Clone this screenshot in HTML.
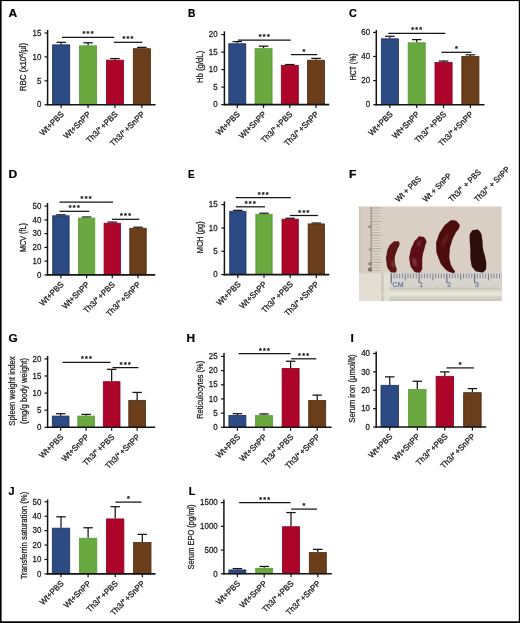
<!DOCTYPE html>
<html lang="en"><head><meta charset="utf-8"><title>Figure</title>
<style>html,body{margin:0;padding:0;background:#fff;}body{width:520px;height:623px;overflow:hidden;}svg{display:block;font-family:"Liberation Sans",sans-serif;}</style>
</head><body>
<svg width="520" height="623" viewBox="0 0 520 623">
<rect x="0" y="0" width="520" height="623" fill="#fff"/>
<line x1="61.15" y1="44.47" x2="61.15" y2="42.32" stroke="#141414" stroke-width="1.25" stroke-linecap="butt"/>
<line x1="56.40" y1="42.32" x2="65.90" y2="42.32" stroke="#141414" stroke-width="1.25" stroke-linecap="butt"/>
<rect x="52.60" y="44.87" width="17.10" height="59.83" fill="#2c4a84" stroke="#1c2f5a" stroke-width="0.8"/>
<line x1="88.05" y1="45.43" x2="88.05" y2="42.80" stroke="#141414" stroke-width="1.25" stroke-linecap="butt"/>
<line x1="83.30" y1="42.80" x2="92.80" y2="42.80" stroke="#141414" stroke-width="1.25" stroke-linecap="butt"/>
<rect x="79.50" y="45.83" width="17.10" height="58.87" fill="#6aa840" stroke="#5a9a34" stroke-width="0.8"/>
<line x1="114.95" y1="59.77" x2="114.95" y2="58.57" stroke="#141414" stroke-width="1.25" stroke-linecap="butt"/>
<line x1="110.20" y1="58.57" x2="119.70" y2="58.57" stroke="#141414" stroke-width="1.25" stroke-linecap="butt"/>
<rect x="106.40" y="60.17" width="17.10" height="44.53" fill="#ad0429" stroke="#8e0020" stroke-width="0.8"/>
<line x1="141.85" y1="48.30" x2="141.85" y2="47.34" stroke="#141414" stroke-width="1.25" stroke-linecap="butt"/>
<line x1="137.10" y1="47.34" x2="146.60" y2="47.34" stroke="#141414" stroke-width="1.25" stroke-linecap="butt"/>
<rect x="133.30" y="48.70" width="17.10" height="56.00" fill="#6a3d1b" stroke="#4a2a10" stroke-width="0.8"/>
<line x1="47.60" y1="30.00" x2="47.60" y2="105.50" stroke="#141414" stroke-width="1.5" stroke-linecap="butt"/>
<line x1="46.90" y1="104.70" x2="155.60" y2="104.70" stroke="#141414" stroke-width="1.6" stroke-linecap="butt"/>
<line x1="44.50" y1="104.70" x2="47.60" y2="104.70" stroke="#141414" stroke-width="1.2" stroke-linecap="butt"/>
<text transform="translate(41.40,107.40) scale(0.92,1)" font-size="8.6" text-anchor="end" font-weight="normal" fill="#242424" stroke="#242424" stroke-width="0.28">0</text>
<line x1="44.50" y1="80.80" x2="47.60" y2="80.80" stroke="#141414" stroke-width="1.2" stroke-linecap="butt"/>
<text transform="translate(41.40,83.50) scale(0.92,1)" font-size="8.6" text-anchor="end" font-weight="normal" fill="#242424" stroke="#242424" stroke-width="0.28">5</text>
<line x1="44.50" y1="56.90" x2="47.60" y2="56.90" stroke="#141414" stroke-width="1.2" stroke-linecap="butt"/>
<text transform="translate(41.40,59.60) scale(0.92,1)" font-size="8.6" text-anchor="end" font-weight="normal" fill="#242424" stroke="#242424" stroke-width="0.28">10</text>
<line x1="44.50" y1="33.00" x2="47.60" y2="33.00" stroke="#141414" stroke-width="1.2" stroke-linecap="butt"/>
<text transform="translate(41.40,35.70) scale(0.92,1)" font-size="8.6" text-anchor="end" font-weight="normal" fill="#242424" stroke="#242424" stroke-width="0.28">15</text>
<line x1="61.15" y1="104.70" x2="61.15" y2="108.10" stroke="#141414" stroke-width="1.2" stroke-linecap="butt"/>
<text transform="translate(64.45,114.80) rotate(-45) scale(0.97,1)" font-size="8.2" text-anchor="end" font-weight="normal" fill="#242424" stroke="#242424" stroke-width="0.3">Wt+PBS</text>
<line x1="88.05" y1="104.70" x2="88.05" y2="108.10" stroke="#141414" stroke-width="1.2" stroke-linecap="butt"/>
<text transform="translate(91.35,114.80) rotate(-45) scale(0.97,1)" font-size="8.2" text-anchor="end" font-weight="normal" fill="#242424" stroke="#242424" stroke-width="0.3">Wt+SnPP</text>
<line x1="114.95" y1="104.70" x2="114.95" y2="108.10" stroke="#141414" stroke-width="1.2" stroke-linecap="butt"/>
<text transform="translate(118.25,114.80) rotate(-45) scale(0.97,1)" font-size="8.2" text-anchor="end" font-weight="normal" fill="#242424" stroke="#242424" stroke-width="0.3">Th3/<tspan dy="-2.6" font-size="5.5">+</tspan><tspan dy="2.6" dx="1.2">+PBS</tspan></text>
<line x1="141.85" y1="104.70" x2="141.85" y2="108.10" stroke="#141414" stroke-width="1.2" stroke-linecap="butt"/>
<text transform="translate(145.15,114.80) rotate(-45) scale(0.97,1)" font-size="8.2" text-anchor="end" font-weight="normal" fill="#242424" stroke="#242424" stroke-width="0.3">Th3/<tspan dy="-2.6" font-size="5.5">+</tspan><tspan dy="2.6" dx="1.2">+SnPP</tspan></text>
<text transform="translate(26.00,67.00) rotate(-90) scale(0.9067500000000001,1)" font-size="8.8" text-anchor="middle" font-weight="normal" fill="#262626" stroke="#262626" stroke-width="0.28">RBC (x10<tspan dy="-2.6" font-size="5.5">6</tspan><tspan dy="2.6">/μl)</tspan></text>
<line x1="62.00" y1="37.30" x2="114.30" y2="37.30" stroke="#141414" stroke-width="1.25" stroke-linecap="butt"/>
<text transform="translate(88.65,36.30)" font-size="7.2" text-anchor="middle" font-weight="bold" fill="#1c1c1c" stroke="#1c1c1c" stroke-width="0.25" letter-spacing="1.3">***</text>
<line x1="113.80" y1="42.30" x2="142.30" y2="42.30" stroke="#141414" stroke-width="1.25" stroke-linecap="butt"/>
<text transform="translate(128.55,41.30)" font-size="7.2" text-anchor="middle" font-weight="bold" fill="#1c1c1c" stroke="#1c1c1c" stroke-width="0.25" letter-spacing="1.3">***</text>
<text transform="translate(8.50,16.70) scale(1.12,1)" font-size="10.8" text-anchor="start" font-weight="bold" fill="#000" stroke="#000" stroke-width="0.2">A</text>
<line x1="237.30" y1="43.35" x2="237.30" y2="41.60" stroke="#141414" stroke-width="1.25" stroke-linecap="butt"/>
<line x1="232.55" y1="41.60" x2="242.05" y2="41.60" stroke="#141414" stroke-width="1.25" stroke-linecap="butt"/>
<rect x="228.80" y="43.75" width="17.00" height="60.85" fill="#2c4a84" stroke="#1c2f5a" stroke-width="0.8"/>
<line x1="263.55" y1="48.25" x2="263.55" y2="46.15" stroke="#141414" stroke-width="1.25" stroke-linecap="butt"/>
<line x1="258.80" y1="46.15" x2="268.30" y2="46.15" stroke="#141414" stroke-width="1.25" stroke-linecap="butt"/>
<rect x="255.05" y="48.65" width="17.00" height="55.95" fill="#6aa840" stroke="#5a9a34" stroke-width="0.8"/>
<line x1="289.80" y1="65.05" x2="289.80" y2="64.52" stroke="#141414" stroke-width="1.25" stroke-linecap="butt"/>
<line x1="285.05" y1="64.52" x2="294.55" y2="64.52" stroke="#141414" stroke-width="1.25" stroke-linecap="butt"/>
<rect x="281.30" y="65.45" width="17.00" height="39.15" fill="#ad0429" stroke="#8e0020" stroke-width="0.8"/>
<line x1="316.05" y1="59.80" x2="316.05" y2="58.40" stroke="#141414" stroke-width="1.25" stroke-linecap="butt"/>
<line x1="311.30" y1="58.40" x2="320.80" y2="58.40" stroke="#141414" stroke-width="1.25" stroke-linecap="butt"/>
<rect x="307.55" y="60.20" width="17.00" height="44.40" fill="#6a3d1b" stroke="#4a2a10" stroke-width="0.8"/>
<line x1="224.40" y1="31.30" x2="224.40" y2="105.40" stroke="#141414" stroke-width="1.5" stroke-linecap="butt"/>
<line x1="223.70" y1="104.60" x2="329.30" y2="104.60" stroke="#141414" stroke-width="1.6" stroke-linecap="butt"/>
<line x1="221.30" y1="104.60" x2="224.40" y2="104.60" stroke="#141414" stroke-width="1.2" stroke-linecap="butt"/>
<text transform="translate(217.60,107.30) scale(0.92,1)" font-size="8.6" text-anchor="end" font-weight="normal" fill="#242424" stroke="#242424" stroke-width="0.28">0</text>
<line x1="221.30" y1="87.10" x2="224.40" y2="87.10" stroke="#141414" stroke-width="1.2" stroke-linecap="butt"/>
<text transform="translate(217.60,89.80) scale(0.92,1)" font-size="8.6" text-anchor="end" font-weight="normal" fill="#242424" stroke="#242424" stroke-width="0.28">5</text>
<line x1="221.30" y1="69.60" x2="224.40" y2="69.60" stroke="#141414" stroke-width="1.2" stroke-linecap="butt"/>
<text transform="translate(217.60,72.30) scale(0.92,1)" font-size="8.6" text-anchor="end" font-weight="normal" fill="#242424" stroke="#242424" stroke-width="0.28">10</text>
<line x1="221.30" y1="52.10" x2="224.40" y2="52.10" stroke="#141414" stroke-width="1.2" stroke-linecap="butt"/>
<text transform="translate(217.60,54.80) scale(0.92,1)" font-size="8.6" text-anchor="end" font-weight="normal" fill="#242424" stroke="#242424" stroke-width="0.28">15</text>
<line x1="221.30" y1="34.60" x2="224.40" y2="34.60" stroke="#141414" stroke-width="1.2" stroke-linecap="butt"/>
<text transform="translate(217.60,37.30) scale(0.92,1)" font-size="8.6" text-anchor="end" font-weight="normal" fill="#242424" stroke="#242424" stroke-width="0.28">20</text>
<line x1="237.30" y1="104.60" x2="237.30" y2="108.00" stroke="#141414" stroke-width="1.2" stroke-linecap="butt"/>
<text transform="translate(240.60,114.70) rotate(-45) scale(0.97,1)" font-size="8.2" text-anchor="end" font-weight="normal" fill="#242424" stroke="#242424" stroke-width="0.3">Wt+PBS</text>
<line x1="263.55" y1="104.60" x2="263.55" y2="108.00" stroke="#141414" stroke-width="1.2" stroke-linecap="butt"/>
<text transform="translate(266.85,114.70) rotate(-45) scale(0.97,1)" font-size="8.2" text-anchor="end" font-weight="normal" fill="#242424" stroke="#242424" stroke-width="0.3">Wt+SnPP</text>
<line x1="289.80" y1="104.60" x2="289.80" y2="108.00" stroke="#141414" stroke-width="1.2" stroke-linecap="butt"/>
<text transform="translate(293.10,114.70) rotate(-45) scale(0.97,1)" font-size="8.2" text-anchor="end" font-weight="normal" fill="#242424" stroke="#242424" stroke-width="0.3">Th3/<tspan dy="-2.6" font-size="5.5">+</tspan><tspan dy="2.6" dx="1.2">+PBS</tspan></text>
<line x1="316.05" y1="104.60" x2="316.05" y2="108.00" stroke="#141414" stroke-width="1.2" stroke-linecap="butt"/>
<text transform="translate(319.35,114.70) rotate(-45) scale(0.97,1)" font-size="8.2" text-anchor="end" font-weight="normal" fill="#242424" stroke="#242424" stroke-width="0.3">Th3/<tspan dy="-2.6" font-size="5.5">+</tspan><tspan dy="2.6" dx="1.2">+SnPP</tspan></text>
<text transform="translate(203.00,66.90) rotate(-90) scale(0.9262499999999999,1)" font-size="8.4" text-anchor="middle" font-weight="normal" fill="#262626" stroke="#262626" stroke-width="0.28">Hb (g/dL)</text>
<line x1="238.00" y1="40.20" x2="290.80" y2="40.20" stroke="#141414" stroke-width="1.25" stroke-linecap="butt"/>
<text transform="translate(264.90,39.20)" font-size="7.2" text-anchor="middle" font-weight="bold" fill="#1c1c1c" stroke="#1c1c1c" stroke-width="0.25" letter-spacing="1.3">***</text>
<line x1="291.00" y1="54.60" x2="317.20" y2="54.60" stroke="#141414" stroke-width="1.25" stroke-linecap="butt"/>
<text transform="translate(304.60,53.60)" font-size="7.2" text-anchor="middle" font-weight="bold" fill="#1c1c1c" stroke="#1c1c1c" stroke-width="0.25" letter-spacing="1.3">*</text>
<text transform="translate(188.00,16.70) scale(0.95,1)" font-size="10.8" text-anchor="start" font-weight="bold" fill="#000" stroke="#000" stroke-width="0.2">B</text>
<line x1="389.85" y1="38.42" x2="389.85" y2="36.26" stroke="#141414" stroke-width="1.25" stroke-linecap="butt"/>
<line x1="385.10" y1="36.26" x2="394.60" y2="36.26" stroke="#141414" stroke-width="1.25" stroke-linecap="butt"/>
<rect x="381.30" y="38.82" width="17.10" height="65.88" fill="#2c4a84" stroke="#1c2f5a" stroke-width="0.8"/>
<line x1="416.70" y1="42.40" x2="416.70" y2="39.63" stroke="#141414" stroke-width="1.25" stroke-linecap="butt"/>
<line x1="411.95" y1="39.63" x2="421.45" y2="39.63" stroke="#141414" stroke-width="1.25" stroke-linecap="butt"/>
<rect x="408.15" y="42.80" width="17.10" height="61.90" fill="#6aa840" stroke="#5a9a34" stroke-width="0.8"/>
<line x1="443.55" y1="62.04" x2="443.55" y2="61.08" stroke="#141414" stroke-width="1.25" stroke-linecap="butt"/>
<line x1="438.80" y1="61.08" x2="448.30" y2="61.08" stroke="#141414" stroke-width="1.25" stroke-linecap="butt"/>
<rect x="435.00" y="62.44" width="17.10" height="42.26" fill="#ad0429" stroke="#8e0020" stroke-width="0.8"/>
<line x1="470.40" y1="56.02" x2="470.40" y2="54.81" stroke="#141414" stroke-width="1.25" stroke-linecap="butt"/>
<line x1="465.65" y1="54.81" x2="475.15" y2="54.81" stroke="#141414" stroke-width="1.25" stroke-linecap="butt"/>
<rect x="461.85" y="56.42" width="17.10" height="48.28" fill="#6a3d1b" stroke="#4a2a10" stroke-width="0.8"/>
<line x1="376.30" y1="30.00" x2="376.30" y2="105.50" stroke="#141414" stroke-width="1.5" stroke-linecap="butt"/>
<line x1="375.60" y1="104.70" x2="484.50" y2="104.70" stroke="#141414" stroke-width="1.6" stroke-linecap="butt"/>
<line x1="373.20" y1="104.70" x2="376.30" y2="104.70" stroke="#141414" stroke-width="1.2" stroke-linecap="butt"/>
<text transform="translate(370.10,107.40) scale(0.92,1)" font-size="8.6" text-anchor="end" font-weight="normal" fill="#242424" stroke="#242424" stroke-width="0.28">0</text>
<line x1="373.20" y1="80.60" x2="376.30" y2="80.60" stroke="#141414" stroke-width="1.2" stroke-linecap="butt"/>
<text transform="translate(370.10,83.30) scale(0.92,1)" font-size="8.6" text-anchor="end" font-weight="normal" fill="#242424" stroke="#242424" stroke-width="0.28">20</text>
<line x1="373.20" y1="56.50" x2="376.30" y2="56.50" stroke="#141414" stroke-width="1.2" stroke-linecap="butt"/>
<text transform="translate(370.10,59.20) scale(0.92,1)" font-size="8.6" text-anchor="end" font-weight="normal" fill="#242424" stroke="#242424" stroke-width="0.28">40</text>
<line x1="373.20" y1="32.40" x2="376.30" y2="32.40" stroke="#141414" stroke-width="1.2" stroke-linecap="butt"/>
<text transform="translate(370.10,35.10) scale(0.92,1)" font-size="8.6" text-anchor="end" font-weight="normal" fill="#242424" stroke="#242424" stroke-width="0.28">60</text>
<line x1="389.85" y1="104.70" x2="389.85" y2="108.10" stroke="#141414" stroke-width="1.2" stroke-linecap="butt"/>
<text transform="translate(393.15,114.80) rotate(-45) scale(0.97,1)" font-size="8.2" text-anchor="end" font-weight="normal" fill="#242424" stroke="#242424" stroke-width="0.3">Wt+PBS</text>
<line x1="416.70" y1="104.70" x2="416.70" y2="108.10" stroke="#141414" stroke-width="1.2" stroke-linecap="butt"/>
<text transform="translate(420.00,114.80) rotate(-45) scale(0.97,1)" font-size="8.2" text-anchor="end" font-weight="normal" fill="#242424" stroke="#242424" stroke-width="0.3">Wt+SnPP</text>
<line x1="443.55" y1="104.70" x2="443.55" y2="108.10" stroke="#141414" stroke-width="1.2" stroke-linecap="butt"/>
<text transform="translate(446.85,114.80) rotate(-45) scale(0.97,1)" font-size="8.2" text-anchor="end" font-weight="normal" fill="#242424" stroke="#242424" stroke-width="0.3">Th3/<tspan dy="-2.6" font-size="5.5">+</tspan><tspan dy="2.6" dx="1.2">+PBS</tspan></text>
<line x1="470.40" y1="104.70" x2="470.40" y2="108.10" stroke="#141414" stroke-width="1.2" stroke-linecap="butt"/>
<text transform="translate(473.70,114.80) rotate(-45) scale(0.97,1)" font-size="8.2" text-anchor="end" font-weight="normal" fill="#242424" stroke="#242424" stroke-width="0.3">Th3/<tspan dy="-2.6" font-size="5.5">+</tspan><tspan dy="2.6" dx="1.2">+SnPP</tspan></text>
<text transform="translate(355.50,66.80) rotate(-90) scale(0.82875,1)" font-size="8.4" text-anchor="middle" font-weight="normal" fill="#262626" stroke="#262626" stroke-width="0.28">HCT (%)</text>
<line x1="388.30" y1="33.30" x2="445.30" y2="33.30" stroke="#141414" stroke-width="1.25" stroke-linecap="butt"/>
<text transform="translate(417.30,32.30)" font-size="7.2" text-anchor="middle" font-weight="bold" fill="#1c1c1c" stroke="#1c1c1c" stroke-width="0.25" letter-spacing="1.3">***</text>
<line x1="441.50" y1="52.30" x2="471.50" y2="52.30" stroke="#141414" stroke-width="1.25" stroke-linecap="butt"/>
<text transform="translate(457.00,51.30)" font-size="7.2" text-anchor="middle" font-weight="bold" fill="#1c1c1c" stroke="#1c1c1c" stroke-width="0.25" letter-spacing="1.3">*</text>
<text transform="translate(349.00,16.70)" font-size="10.8" text-anchor="start" font-weight="bold" fill="#000" stroke="#000" stroke-width="0.2">C</text>
<line x1="60.90" y1="215.36" x2="60.90" y2="214.81" stroke="#141414" stroke-width="1.25" stroke-linecap="butt"/>
<line x1="56.15" y1="214.81" x2="65.65" y2="214.81" stroke="#141414" stroke-width="1.25" stroke-linecap="butt"/>
<rect x="52.70" y="215.76" width="16.40" height="59.14" fill="#2c4a84" stroke="#1c2f5a" stroke-width="0.8"/>
<line x1="86.60" y1="217.70" x2="86.60" y2="217.01" stroke="#141414" stroke-width="1.25" stroke-linecap="butt"/>
<line x1="81.85" y1="217.01" x2="91.35" y2="217.01" stroke="#141414" stroke-width="1.25" stroke-linecap="butt"/>
<rect x="78.40" y="218.10" width="16.40" height="56.80" fill="#6aa840" stroke="#5a9a34" stroke-width="0.8"/>
<line x1="112.30" y1="222.79" x2="112.30" y2="222.10" stroke="#141414" stroke-width="1.25" stroke-linecap="butt"/>
<line x1="107.55" y1="222.10" x2="117.05" y2="222.10" stroke="#141414" stroke-width="1.25" stroke-linecap="butt"/>
<rect x="104.10" y="223.19" width="16.40" height="51.71" fill="#ad0429" stroke="#8e0020" stroke-width="0.8"/>
<line x1="138.00" y1="227.87" x2="138.00" y2="227.19" stroke="#141414" stroke-width="1.25" stroke-linecap="butt"/>
<line x1="133.25" y1="227.19" x2="142.75" y2="227.19" stroke="#141414" stroke-width="1.25" stroke-linecap="butt"/>
<rect x="129.80" y="228.27" width="16.40" height="46.63" fill="#6a3d1b" stroke="#4a2a10" stroke-width="0.8"/>
<line x1="47.50" y1="203.00" x2="47.50" y2="275.70" stroke="#141414" stroke-width="1.5" stroke-linecap="butt"/>
<line x1="46.80" y1="274.90" x2="155.20" y2="274.90" stroke="#141414" stroke-width="1.6" stroke-linecap="butt"/>
<line x1="44.40" y1="274.90" x2="47.50" y2="274.90" stroke="#141414" stroke-width="1.2" stroke-linecap="butt"/>
<text transform="translate(41.30,277.60) scale(0.92,1)" font-size="8.6" text-anchor="end" font-weight="normal" fill="#242424" stroke="#242424" stroke-width="0.28">0</text>
<line x1="44.40" y1="261.15" x2="47.50" y2="261.15" stroke="#141414" stroke-width="1.2" stroke-linecap="butt"/>
<text transform="translate(41.30,263.85) scale(0.92,1)" font-size="8.6" text-anchor="end" font-weight="normal" fill="#242424" stroke="#242424" stroke-width="0.28">10</text>
<line x1="44.40" y1="247.40" x2="47.50" y2="247.40" stroke="#141414" stroke-width="1.2" stroke-linecap="butt"/>
<text transform="translate(41.30,250.10) scale(0.92,1)" font-size="8.6" text-anchor="end" font-weight="normal" fill="#242424" stroke="#242424" stroke-width="0.28">20</text>
<line x1="44.40" y1="233.65" x2="47.50" y2="233.65" stroke="#141414" stroke-width="1.2" stroke-linecap="butt"/>
<text transform="translate(41.30,236.35) scale(0.92,1)" font-size="8.6" text-anchor="end" font-weight="normal" fill="#242424" stroke="#242424" stroke-width="0.28">30</text>
<line x1="44.40" y1="219.90" x2="47.50" y2="219.90" stroke="#141414" stroke-width="1.2" stroke-linecap="butt"/>
<text transform="translate(41.30,222.60) scale(0.92,1)" font-size="8.6" text-anchor="end" font-weight="normal" fill="#242424" stroke="#242424" stroke-width="0.28">40</text>
<line x1="44.40" y1="206.15" x2="47.50" y2="206.15" stroke="#141414" stroke-width="1.2" stroke-linecap="butt"/>
<text transform="translate(41.30,208.85) scale(0.92,1)" font-size="8.6" text-anchor="end" font-weight="normal" fill="#242424" stroke="#242424" stroke-width="0.28">50</text>
<line x1="60.90" y1="274.90" x2="60.90" y2="278.30" stroke="#141414" stroke-width="1.2" stroke-linecap="butt"/>
<text transform="translate(64.20,285.00) rotate(-45) scale(0.97,1)" font-size="8.2" text-anchor="end" font-weight="normal" fill="#242424" stroke="#242424" stroke-width="0.3">Wt+PBS</text>
<line x1="86.60" y1="274.90" x2="86.60" y2="278.30" stroke="#141414" stroke-width="1.2" stroke-linecap="butt"/>
<text transform="translate(89.90,285.00) rotate(-45) scale(0.97,1)" font-size="8.2" text-anchor="end" font-weight="normal" fill="#242424" stroke="#242424" stroke-width="0.3">Wt+SnPP</text>
<line x1="112.30" y1="274.90" x2="112.30" y2="278.30" stroke="#141414" stroke-width="1.2" stroke-linecap="butt"/>
<text transform="translate(115.60,285.00) rotate(-45) scale(0.97,1)" font-size="8.2" text-anchor="end" font-weight="normal" fill="#242424" stroke="#242424" stroke-width="0.3">Th3/<tspan dy="-2.6" font-size="5.5">+</tspan><tspan dy="2.6" dx="1.2">+PBS</tspan></text>
<line x1="138.00" y1="274.90" x2="138.00" y2="278.30" stroke="#141414" stroke-width="1.2" stroke-linecap="butt"/>
<text transform="translate(141.30,285.00) rotate(-45) scale(0.97,1)" font-size="8.2" text-anchor="end" font-weight="normal" fill="#242424" stroke="#242424" stroke-width="0.3">Th3/<tspan dy="-2.6" font-size="5.5">+</tspan><tspan dy="2.6" dx="1.2">+SnPP</tspan></text>
<text transform="translate(25.60,237.50) rotate(-90) scale(0.862875,1)" font-size="8.4" text-anchor="middle" font-weight="normal" fill="#262626" stroke="#262626" stroke-width="0.28">MCV (fL)</text>
<line x1="59.50" y1="202.00" x2="113.00" y2="202.00" stroke="#141414" stroke-width="1.25" stroke-linecap="butt"/>
<text transform="translate(86.75,201.00)" font-size="7.2" text-anchor="middle" font-weight="bold" fill="#1c1c1c" stroke="#1c1c1c" stroke-width="0.25" letter-spacing="1.3">***</text>
<line x1="59.50" y1="211.30" x2="89.30" y2="211.30" stroke="#141414" stroke-width="1.25" stroke-linecap="butt"/>
<text transform="translate(74.90,210.30)" font-size="7.2" text-anchor="middle" font-weight="bold" fill="#1c1c1c" stroke="#1c1c1c" stroke-width="0.25" letter-spacing="1.3">***</text>
<line x1="112.00" y1="219.30" x2="139.30" y2="219.30" stroke="#141414" stroke-width="1.25" stroke-linecap="butt"/>
<text transform="translate(126.15,218.30)" font-size="7.2" text-anchor="middle" font-weight="bold" fill="#1c1c1c" stroke="#1c1c1c" stroke-width="0.25" letter-spacing="1.3">***</text>
<text transform="translate(8.40,178.40) scale(1.12,1)" font-size="10.8" text-anchor="start" font-weight="bold" fill="#000" stroke="#000" stroke-width="0.2">D</text>
<line x1="237.85" y1="210.90" x2="237.85" y2="210.34" stroke="#141414" stroke-width="1.25" stroke-linecap="butt"/>
<line x1="233.10" y1="210.34" x2="242.60" y2="210.34" stroke="#141414" stroke-width="1.25" stroke-linecap="butt"/>
<rect x="229.70" y="211.30" width="16.30" height="63.30" fill="#2c4a84" stroke="#1c2f5a" stroke-width="0.8"/>
<line x1="264.00" y1="213.93" x2="264.00" y2="213.23" stroke="#141414" stroke-width="1.25" stroke-linecap="butt"/>
<line x1="259.25" y1="213.23" x2="268.75" y2="213.23" stroke="#141414" stroke-width="1.25" stroke-linecap="butt"/>
<rect x="255.85" y="214.33" width="16.30" height="60.27" fill="#6aa840" stroke="#5a9a34" stroke-width="0.8"/>
<line x1="290.15" y1="218.83" x2="290.15" y2="218.27" stroke="#141414" stroke-width="1.25" stroke-linecap="butt"/>
<line x1="285.40" y1="218.27" x2="294.90" y2="218.27" stroke="#141414" stroke-width="1.25" stroke-linecap="butt"/>
<rect x="282.00" y="219.23" width="16.30" height="55.37" fill="#ad0429" stroke="#8e0020" stroke-width="0.8"/>
<line x1="316.30" y1="223.50" x2="316.30" y2="223.03" stroke="#141414" stroke-width="1.25" stroke-linecap="butt"/>
<line x1="311.55" y1="223.03" x2="321.05" y2="223.03" stroke="#141414" stroke-width="1.25" stroke-linecap="butt"/>
<rect x="308.15" y="223.90" width="16.30" height="50.70" fill="#6a3d1b" stroke="#4a2a10" stroke-width="0.8"/>
<line x1="224.40" y1="201.40" x2="224.40" y2="275.40" stroke="#141414" stroke-width="1.5" stroke-linecap="butt"/>
<line x1="223.70" y1="274.60" x2="329.30" y2="274.60" stroke="#141414" stroke-width="1.6" stroke-linecap="butt"/>
<line x1="221.30" y1="274.60" x2="224.40" y2="274.60" stroke="#141414" stroke-width="1.2" stroke-linecap="butt"/>
<text transform="translate(217.60,277.30) scale(0.92,1)" font-size="8.6" text-anchor="end" font-weight="normal" fill="#242424" stroke="#242424" stroke-width="0.28">0</text>
<line x1="221.30" y1="251.27" x2="224.40" y2="251.27" stroke="#141414" stroke-width="1.2" stroke-linecap="butt"/>
<text transform="translate(217.60,253.97) scale(0.92,1)" font-size="8.6" text-anchor="end" font-weight="normal" fill="#242424" stroke="#242424" stroke-width="0.28">5</text>
<line x1="221.30" y1="227.93" x2="224.40" y2="227.93" stroke="#141414" stroke-width="1.2" stroke-linecap="butt"/>
<text transform="translate(217.60,230.63) scale(0.92,1)" font-size="8.6" text-anchor="end" font-weight="normal" fill="#242424" stroke="#242424" stroke-width="0.28">10</text>
<line x1="221.30" y1="204.60" x2="224.40" y2="204.60" stroke="#141414" stroke-width="1.2" stroke-linecap="butt"/>
<text transform="translate(217.60,207.30) scale(0.92,1)" font-size="8.6" text-anchor="end" font-weight="normal" fill="#242424" stroke="#242424" stroke-width="0.28">15</text>
<line x1="237.85" y1="274.60" x2="237.85" y2="278.00" stroke="#141414" stroke-width="1.2" stroke-linecap="butt"/>
<text transform="translate(241.15,284.70) rotate(-45) scale(0.97,1)" font-size="8.2" text-anchor="end" font-weight="normal" fill="#242424" stroke="#242424" stroke-width="0.3">Wt+PBS</text>
<line x1="264.00" y1="274.60" x2="264.00" y2="278.00" stroke="#141414" stroke-width="1.2" stroke-linecap="butt"/>
<text transform="translate(267.30,284.70) rotate(-45) scale(0.97,1)" font-size="8.2" text-anchor="end" font-weight="normal" fill="#242424" stroke="#242424" stroke-width="0.3">Wt+SnPP</text>
<line x1="290.15" y1="274.60" x2="290.15" y2="278.00" stroke="#141414" stroke-width="1.2" stroke-linecap="butt"/>
<text transform="translate(293.45,284.70) rotate(-45) scale(0.97,1)" font-size="8.2" text-anchor="end" font-weight="normal" fill="#242424" stroke="#242424" stroke-width="0.3">Th3/<tspan dy="-2.6" font-size="5.5">+</tspan><tspan dy="2.6" dx="1.2">+PBS</tspan></text>
<line x1="316.30" y1="274.60" x2="316.30" y2="278.00" stroke="#141414" stroke-width="1.2" stroke-linecap="butt"/>
<text transform="translate(319.60,284.70) rotate(-45) scale(0.97,1)" font-size="8.2" text-anchor="end" font-weight="normal" fill="#242424" stroke="#242424" stroke-width="0.3">Th3/<tspan dy="-2.6" font-size="5.5">+</tspan><tspan dy="2.6" dx="1.2">+SnPP</tspan></text>
<text transform="translate(203.00,237.30) rotate(-90) scale(0.8775,1)" font-size="8.4" text-anchor="middle" font-weight="normal" fill="#262626" stroke="#262626" stroke-width="0.28">MCH (pg)</text>
<line x1="235.80" y1="197.50" x2="290.80" y2="197.50" stroke="#141414" stroke-width="1.25" stroke-linecap="butt"/>
<text transform="translate(263.80,196.50)" font-size="7.2" text-anchor="middle" font-weight="bold" fill="#1c1c1c" stroke="#1c1c1c" stroke-width="0.25" letter-spacing="1.3">***</text>
<line x1="235.80" y1="206.80" x2="265.00" y2="206.80" stroke="#141414" stroke-width="1.25" stroke-linecap="butt"/>
<text transform="translate(250.90,205.80)" font-size="7.2" text-anchor="middle" font-weight="bold" fill="#1c1c1c" stroke="#1c1c1c" stroke-width="0.25" letter-spacing="1.3">***</text>
<line x1="290.00" y1="215.50" x2="318.00" y2="215.50" stroke="#141414" stroke-width="1.25" stroke-linecap="butt"/>
<text transform="translate(304.50,214.50)" font-size="7.2" text-anchor="middle" font-weight="bold" fill="#1c1c1c" stroke="#1c1c1c" stroke-width="0.25" letter-spacing="1.3">***</text>
<text transform="translate(188.00,178.40) scale(0.92,1)" font-size="10.8" text-anchor="start" font-weight="bold" fill="#000" stroke="#000" stroke-width="0.2">E</text>
<line x1="60.65" y1="415.67" x2="60.65" y2="413.69" stroke="#141414" stroke-width="1.25" stroke-linecap="butt"/>
<line x1="55.90" y1="413.69" x2="65.40" y2="413.69" stroke="#141414" stroke-width="1.25" stroke-linecap="butt"/>
<rect x="52.30" y="416.07" width="16.70" height="11.23" fill="#2c4a84" stroke="#1c2f5a" stroke-width="0.8"/>
<line x1="86.15" y1="415.67" x2="86.15" y2="414.41" stroke="#141414" stroke-width="1.25" stroke-linecap="butt"/>
<line x1="81.40" y1="414.41" x2="90.90" y2="414.41" stroke="#141414" stroke-width="1.25" stroke-linecap="butt"/>
<rect x="77.80" y="416.07" width="16.70" height="11.23" fill="#6aa840" stroke="#5a9a34" stroke-width="0.8"/>
<line x1="111.65" y1="381.30" x2="111.65" y2="369.33" stroke="#141414" stroke-width="1.25" stroke-linecap="butt"/>
<line x1="106.90" y1="369.33" x2="116.40" y2="369.33" stroke="#141414" stroke-width="1.25" stroke-linecap="butt"/>
<rect x="103.30" y="381.70" width="16.70" height="45.60" fill="#ad0429" stroke="#8e0020" stroke-width="0.8"/>
<line x1="137.15" y1="399.94" x2="137.15" y2="392.42" stroke="#141414" stroke-width="1.25" stroke-linecap="butt"/>
<line x1="132.40" y1="392.42" x2="141.90" y2="392.42" stroke="#141414" stroke-width="1.25" stroke-linecap="butt"/>
<rect x="128.80" y="400.34" width="16.70" height="26.96" fill="#6a3d1b" stroke="#4a2a10" stroke-width="0.8"/>
<line x1="47.60" y1="356.00" x2="47.60" y2="428.10" stroke="#141414" stroke-width="1.5" stroke-linecap="butt"/>
<line x1="46.90" y1="427.30" x2="155.20" y2="427.30" stroke="#141414" stroke-width="1.6" stroke-linecap="butt"/>
<line x1="44.50" y1="427.30" x2="47.60" y2="427.30" stroke="#141414" stroke-width="1.2" stroke-linecap="butt"/>
<text transform="translate(41.40,430.00) scale(0.92,1)" font-size="8.6" text-anchor="end" font-weight="normal" fill="#242424" stroke="#242424" stroke-width="0.28">0</text>
<line x1="44.50" y1="410.20" x2="47.60" y2="410.20" stroke="#141414" stroke-width="1.2" stroke-linecap="butt"/>
<text transform="translate(41.40,412.90) scale(0.92,1)" font-size="8.6" text-anchor="end" font-weight="normal" fill="#242424" stroke="#242424" stroke-width="0.28">5</text>
<line x1="44.50" y1="393.10" x2="47.60" y2="393.10" stroke="#141414" stroke-width="1.2" stroke-linecap="butt"/>
<text transform="translate(41.40,395.80) scale(0.92,1)" font-size="8.6" text-anchor="end" font-weight="normal" fill="#242424" stroke="#242424" stroke-width="0.28">10</text>
<line x1="44.50" y1="376.00" x2="47.60" y2="376.00" stroke="#141414" stroke-width="1.2" stroke-linecap="butt"/>
<text transform="translate(41.40,378.70) scale(0.92,1)" font-size="8.6" text-anchor="end" font-weight="normal" fill="#242424" stroke="#242424" stroke-width="0.28">15</text>
<line x1="44.50" y1="358.90" x2="47.60" y2="358.90" stroke="#141414" stroke-width="1.2" stroke-linecap="butt"/>
<text transform="translate(41.40,361.60) scale(0.92,1)" font-size="8.6" text-anchor="end" font-weight="normal" fill="#242424" stroke="#242424" stroke-width="0.28">20</text>
<line x1="60.65" y1="427.30" x2="60.65" y2="430.70" stroke="#141414" stroke-width="1.2" stroke-linecap="butt"/>
<text transform="translate(63.95,437.40) rotate(-45) scale(0.97,1)" font-size="8.2" text-anchor="end" font-weight="normal" fill="#242424" stroke="#242424" stroke-width="0.3">Wt+PBS</text>
<line x1="86.15" y1="427.30" x2="86.15" y2="430.70" stroke="#141414" stroke-width="1.2" stroke-linecap="butt"/>
<text transform="translate(89.45,437.40) rotate(-45) scale(0.97,1)" font-size="8.2" text-anchor="end" font-weight="normal" fill="#242424" stroke="#242424" stroke-width="0.3">Wt+SnPP</text>
<line x1="111.65" y1="427.30" x2="111.65" y2="430.70" stroke="#141414" stroke-width="1.2" stroke-linecap="butt"/>
<text transform="translate(114.95,437.40) rotate(-45) scale(0.97,1)" font-size="8.2" text-anchor="end" font-weight="normal" fill="#242424" stroke="#242424" stroke-width="0.3">Th3/<tspan dy="-2.6" font-size="5.5">+</tspan><tspan dy="2.6" dx="1.2">+PBS</tspan></text>
<line x1="137.15" y1="427.30" x2="137.15" y2="430.70" stroke="#141414" stroke-width="1.2" stroke-linecap="butt"/>
<text transform="translate(140.45,437.40) rotate(-45) scale(0.97,1)" font-size="8.2" text-anchor="end" font-weight="normal" fill="#242424" stroke="#242424" stroke-width="0.3">Th3/<tspan dy="-2.6" font-size="5.5">+</tspan><tspan dy="2.6" dx="1.2">+SnPP</tspan></text>
<text transform="translate(15.00,391.00) rotate(-90) scale(0.9262499999999999,1)" font-size="8.4" text-anchor="middle" font-weight="normal" fill="#262626" stroke="#262626" stroke-width="0.28">Spleen weight index</text>
<text transform="translate(26.50,391.00) rotate(-90) scale(0.9262499999999999,1)" font-size="8.4" text-anchor="middle" font-weight="normal" fill="#262626" stroke="#262626" stroke-width="0.28">(mg/g body weight)</text>
<line x1="62.60" y1="362.30" x2="110.50" y2="362.30" stroke="#141414" stroke-width="1.25" stroke-linecap="butt"/>
<text transform="translate(87.05,361.30)" font-size="7.2" text-anchor="middle" font-weight="bold" fill="#1c1c1c" stroke="#1c1c1c" stroke-width="0.25" letter-spacing="1.3">***</text>
<line x1="112.50" y1="367.60" x2="138.50" y2="367.60" stroke="#141414" stroke-width="1.25" stroke-linecap="butt"/>
<text transform="translate(126.00,366.60)" font-size="7.2" text-anchor="middle" font-weight="bold" fill="#1c1c1c" stroke="#1c1c1c" stroke-width="0.25" letter-spacing="1.3">***</text>
<text transform="translate(8.50,342.40) scale(1.1,1)" font-size="10.8" text-anchor="start" font-weight="bold" fill="#000" stroke="#000" stroke-width="0.2">G</text>
<line x1="237.40" y1="415.11" x2="237.40" y2="413.69" stroke="#141414" stroke-width="1.25" stroke-linecap="butt"/>
<line x1="232.65" y1="413.69" x2="242.15" y2="413.69" stroke="#141414" stroke-width="1.25" stroke-linecap="butt"/>
<rect x="228.90" y="415.51" width="17.00" height="11.79" fill="#2c4a84" stroke="#1c2f5a" stroke-width="0.8"/>
<line x1="264.00" y1="415.25" x2="264.00" y2="413.98" stroke="#141414" stroke-width="1.25" stroke-linecap="butt"/>
<line x1="259.25" y1="413.98" x2="268.75" y2="413.98" stroke="#141414" stroke-width="1.25" stroke-linecap="butt"/>
<rect x="255.50" y="415.65" width="17.00" height="11.65" fill="#6aa840" stroke="#5a9a34" stroke-width="0.8"/>
<line x1="290.60" y1="368.05" x2="290.60" y2="361.24" stroke="#141414" stroke-width="1.25" stroke-linecap="butt"/>
<line x1="285.85" y1="361.24" x2="295.35" y2="361.24" stroke="#141414" stroke-width="1.25" stroke-linecap="butt"/>
<rect x="282.10" y="368.45" width="17.00" height="58.85" fill="#ad0429" stroke="#8e0020" stroke-width="0.8"/>
<line x1="317.20" y1="400.08" x2="317.20" y2="395.12" stroke="#141414" stroke-width="1.25" stroke-linecap="butt"/>
<line x1="312.45" y1="395.12" x2="321.95" y2="395.12" stroke="#141414" stroke-width="1.25" stroke-linecap="butt"/>
<rect x="308.70" y="400.48" width="17.00" height="26.82" fill="#6a3d1b" stroke="#4a2a10" stroke-width="0.8"/>
<line x1="224.00" y1="353.00" x2="224.00" y2="428.10" stroke="#141414" stroke-width="1.5" stroke-linecap="butt"/>
<line x1="223.30" y1="427.30" x2="331.60" y2="427.30" stroke="#141414" stroke-width="1.6" stroke-linecap="butt"/>
<line x1="220.90" y1="427.30" x2="224.00" y2="427.30" stroke="#141414" stroke-width="1.2" stroke-linecap="butt"/>
<text transform="translate(217.60,430.00) scale(0.92,1)" font-size="8.6" text-anchor="end" font-weight="normal" fill="#242424" stroke="#242424" stroke-width="0.28">0</text>
<line x1="220.90" y1="413.12" x2="224.00" y2="413.12" stroke="#141414" stroke-width="1.2" stroke-linecap="butt"/>
<text transform="translate(217.60,415.82) scale(0.92,1)" font-size="8.6" text-anchor="end" font-weight="normal" fill="#242424" stroke="#242424" stroke-width="0.28">5</text>
<line x1="220.90" y1="398.95" x2="224.00" y2="398.95" stroke="#141414" stroke-width="1.2" stroke-linecap="butt"/>
<text transform="translate(217.60,401.65) scale(0.92,1)" font-size="8.6" text-anchor="end" font-weight="normal" fill="#242424" stroke="#242424" stroke-width="0.28">10</text>
<line x1="220.90" y1="384.78" x2="224.00" y2="384.78" stroke="#141414" stroke-width="1.2" stroke-linecap="butt"/>
<text transform="translate(217.60,387.48) scale(0.92,1)" font-size="8.6" text-anchor="end" font-weight="normal" fill="#242424" stroke="#242424" stroke-width="0.28">15</text>
<line x1="220.90" y1="370.60" x2="224.00" y2="370.60" stroke="#141414" stroke-width="1.2" stroke-linecap="butt"/>
<text transform="translate(217.60,373.30) scale(0.92,1)" font-size="8.6" text-anchor="end" font-weight="normal" fill="#242424" stroke="#242424" stroke-width="0.28">20</text>
<line x1="220.90" y1="356.43" x2="224.00" y2="356.43" stroke="#141414" stroke-width="1.2" stroke-linecap="butt"/>
<text transform="translate(217.60,359.12) scale(0.92,1)" font-size="8.6" text-anchor="end" font-weight="normal" fill="#242424" stroke="#242424" stroke-width="0.28">25</text>
<line x1="237.40" y1="427.30" x2="237.40" y2="430.70" stroke="#141414" stroke-width="1.2" stroke-linecap="butt"/>
<text transform="translate(240.70,437.40) rotate(-45) scale(0.97,1)" font-size="8.2" text-anchor="end" font-weight="normal" fill="#242424" stroke="#242424" stroke-width="0.3">Wt+PBS</text>
<line x1="264.00" y1="427.30" x2="264.00" y2="430.70" stroke="#141414" stroke-width="1.2" stroke-linecap="butt"/>
<text transform="translate(267.30,437.40) rotate(-45) scale(0.97,1)" font-size="8.2" text-anchor="end" font-weight="normal" fill="#242424" stroke="#242424" stroke-width="0.3">Wt+SnPP</text>
<line x1="290.60" y1="427.30" x2="290.60" y2="430.70" stroke="#141414" stroke-width="1.2" stroke-linecap="butt"/>
<text transform="translate(293.90,437.40) rotate(-45) scale(0.97,1)" font-size="8.2" text-anchor="end" font-weight="normal" fill="#242424" stroke="#242424" stroke-width="0.3">Th3/<tspan dy="-2.6" font-size="5.5">+</tspan><tspan dy="2.6" dx="1.2">+PBS</tspan></text>
<line x1="317.20" y1="427.30" x2="317.20" y2="430.70" stroke="#141414" stroke-width="1.2" stroke-linecap="butt"/>
<text transform="translate(320.50,437.40) rotate(-45) scale(0.97,1)" font-size="8.2" text-anchor="end" font-weight="normal" fill="#242424" stroke="#242424" stroke-width="0.3">Th3/<tspan dy="-2.6" font-size="5.5">+</tspan><tspan dy="2.6" dx="1.2">+SnPP</tspan></text>
<text transform="translate(203.00,389.80) rotate(-90) scale(0.88725,1)" font-size="8.4" text-anchor="middle" font-weight="normal" fill="#262626" stroke="#262626" stroke-width="0.28">Reticulocytes (%)</text>
<line x1="238.60" y1="353.70" x2="290.50" y2="353.70" stroke="#141414" stroke-width="1.25" stroke-linecap="butt"/>
<text transform="translate(265.05,352.70)" font-size="7.2" text-anchor="middle" font-weight="bold" fill="#1c1c1c" stroke="#1c1c1c" stroke-width="0.25" letter-spacing="1.3">***</text>
<line x1="291.20" y1="358.80" x2="316.30" y2="358.80" stroke="#141414" stroke-width="1.25" stroke-linecap="butt"/>
<text transform="translate(304.25,357.80)" font-size="7.2" text-anchor="middle" font-weight="bold" fill="#1c1c1c" stroke="#1c1c1c" stroke-width="0.25" letter-spacing="1.3">***</text>
<text transform="translate(186.50,342.30) scale(1.1,1)" font-size="10.8" text-anchor="start" font-weight="bold" fill="#000" stroke="#000" stroke-width="0.2">H</text>
<line x1="389.75" y1="384.92" x2="389.75" y2="376.84" stroke="#141414" stroke-width="1.25" stroke-linecap="butt"/>
<line x1="385.00" y1="376.84" x2="394.50" y2="376.84" stroke="#141414" stroke-width="1.25" stroke-linecap="butt"/>
<rect x="381.00" y="385.32" width="17.50" height="41.68" fill="#2c4a84" stroke="#1c2f5a" stroke-width="0.8"/>
<line x1="417.30" y1="389.15" x2="417.30" y2="381.25" stroke="#141414" stroke-width="1.25" stroke-linecap="butt"/>
<line x1="412.55" y1="381.25" x2="422.05" y2="381.25" stroke="#141414" stroke-width="1.25" stroke-linecap="butt"/>
<rect x="408.55" y="389.55" width="17.50" height="37.45" fill="#6aa840" stroke="#5a9a34" stroke-width="0.8"/>
<line x1="444.85" y1="375.92" x2="444.85" y2="371.88" stroke="#141414" stroke-width="1.25" stroke-linecap="butt"/>
<line x1="440.10" y1="371.88" x2="449.60" y2="371.88" stroke="#141414" stroke-width="1.25" stroke-linecap="butt"/>
<rect x="436.10" y="376.32" width="17.50" height="50.68" fill="#ad0429" stroke="#8e0020" stroke-width="0.8"/>
<line x1="472.40" y1="392.27" x2="472.40" y2="388.60" stroke="#141414" stroke-width="1.25" stroke-linecap="butt"/>
<line x1="467.65" y1="388.60" x2="477.15" y2="388.60" stroke="#141414" stroke-width="1.25" stroke-linecap="butt"/>
<rect x="463.65" y="392.67" width="17.50" height="34.33" fill="#6a3d1b" stroke="#4a2a10" stroke-width="0.8"/>
<line x1="376.20" y1="351.50" x2="376.20" y2="427.80" stroke="#141414" stroke-width="1.5" stroke-linecap="butt"/>
<line x1="375.50" y1="427.00" x2="486.20" y2="427.00" stroke="#141414" stroke-width="1.6" stroke-linecap="butt"/>
<line x1="373.10" y1="427.00" x2="376.20" y2="427.00" stroke="#141414" stroke-width="1.2" stroke-linecap="butt"/>
<text transform="translate(370.00,429.70) scale(0.92,1)" font-size="8.6" text-anchor="end" font-weight="normal" fill="#242424" stroke="#242424" stroke-width="0.28">0</text>
<line x1="373.10" y1="408.62" x2="376.20" y2="408.62" stroke="#141414" stroke-width="1.2" stroke-linecap="butt"/>
<text transform="translate(370.00,411.32) scale(0.92,1)" font-size="8.6" text-anchor="end" font-weight="normal" fill="#242424" stroke="#242424" stroke-width="0.28">10</text>
<line x1="373.10" y1="390.25" x2="376.20" y2="390.25" stroke="#141414" stroke-width="1.2" stroke-linecap="butt"/>
<text transform="translate(370.00,392.95) scale(0.92,1)" font-size="8.6" text-anchor="end" font-weight="normal" fill="#242424" stroke="#242424" stroke-width="0.28">20</text>
<line x1="373.10" y1="371.88" x2="376.20" y2="371.88" stroke="#141414" stroke-width="1.2" stroke-linecap="butt"/>
<text transform="translate(370.00,374.57) scale(0.92,1)" font-size="8.6" text-anchor="end" font-weight="normal" fill="#242424" stroke="#242424" stroke-width="0.28">30</text>
<line x1="373.10" y1="353.50" x2="376.20" y2="353.50" stroke="#141414" stroke-width="1.2" stroke-linecap="butt"/>
<text transform="translate(370.00,356.20) scale(0.92,1)" font-size="8.6" text-anchor="end" font-weight="normal" fill="#242424" stroke="#242424" stroke-width="0.28">40</text>
<line x1="389.75" y1="427.00" x2="389.75" y2="430.40" stroke="#141414" stroke-width="1.2" stroke-linecap="butt"/>
<text transform="translate(393.05,437.10) rotate(-45) scale(0.97,1)" font-size="8.2" text-anchor="end" font-weight="normal" fill="#242424" stroke="#242424" stroke-width="0.3">Wt+PBS</text>
<line x1="417.30" y1="427.00" x2="417.30" y2="430.40" stroke="#141414" stroke-width="1.2" stroke-linecap="butt"/>
<text transform="translate(420.60,437.10) rotate(-45) scale(0.97,1)" font-size="8.2" text-anchor="end" font-weight="normal" fill="#242424" stroke="#242424" stroke-width="0.3">Wt+SnPP</text>
<line x1="444.85" y1="427.00" x2="444.85" y2="430.40" stroke="#141414" stroke-width="1.2" stroke-linecap="butt"/>
<text transform="translate(448.15,437.10) rotate(-45) scale(0.97,1)" font-size="8.2" text-anchor="end" font-weight="normal" fill="#242424" stroke="#242424" stroke-width="0.3">Th3/<tspan dy="-2.6" font-size="5.5">+</tspan><tspan dy="2.6" dx="1.2">+PBS</tspan></text>
<line x1="472.40" y1="427.00" x2="472.40" y2="430.40" stroke="#141414" stroke-width="1.2" stroke-linecap="butt"/>
<text transform="translate(475.70,437.10) rotate(-45) scale(0.97,1)" font-size="8.2" text-anchor="end" font-weight="normal" fill="#242424" stroke="#242424" stroke-width="0.3">Th3/<tspan dy="-2.6" font-size="5.5">+</tspan><tspan dy="2.6" dx="1.2">+SnPP</tspan></text>
<text transform="translate(354.80,388.50) rotate(-90) scale(0.9262499999999999,1)" font-size="8.4" text-anchor="middle" font-weight="normal" fill="#262626" stroke="#262626" stroke-width="0.28">Serum iron (μmol/lt)</text>
<line x1="446.50" y1="367.90" x2="473.90" y2="367.90" stroke="#141414" stroke-width="1.25" stroke-linecap="butt"/>
<text transform="translate(460.70,366.90)" font-size="7.2" text-anchor="middle" font-weight="bold" fill="#1c1c1c" stroke="#1c1c1c" stroke-width="0.25" letter-spacing="1.3">*</text>
<text transform="translate(350.50,342.40) scale(1.1,1)" font-size="10.8" text-anchor="start" font-weight="bold" fill="#000" stroke="#000" stroke-width="0.2">I</text>
<line x1="61.00" y1="527.76" x2="61.00" y2="516.80" stroke="#141414" stroke-width="1.25" stroke-linecap="butt"/>
<line x1="56.25" y1="516.80" x2="65.75" y2="516.80" stroke="#141414" stroke-width="1.25" stroke-linecap="butt"/>
<rect x="52.30" y="528.16" width="17.40" height="45.74" fill="#2c4a84" stroke="#1c2f5a" stroke-width="0.8"/>
<line x1="88.10" y1="537.85" x2="88.10" y2="527.76" stroke="#141414" stroke-width="1.25" stroke-linecap="butt"/>
<line x1="83.35" y1="527.76" x2="92.85" y2="527.76" stroke="#141414" stroke-width="1.25" stroke-linecap="butt"/>
<rect x="79.40" y="538.25" width="17.40" height="35.65" fill="#6aa840" stroke="#5a9a34" stroke-width="0.8"/>
<line x1="115.20" y1="518.53" x2="115.20" y2="506.70" stroke="#141414" stroke-width="1.25" stroke-linecap="butt"/>
<line x1="110.45" y1="506.70" x2="119.95" y2="506.70" stroke="#141414" stroke-width="1.25" stroke-linecap="butt"/>
<rect x="106.50" y="518.93" width="17.40" height="54.97" fill="#ad0429" stroke="#8e0020" stroke-width="0.8"/>
<line x1="142.30" y1="542.18" x2="142.30" y2="534.39" stroke="#141414" stroke-width="1.25" stroke-linecap="butt"/>
<line x1="137.55" y1="534.39" x2="147.05" y2="534.39" stroke="#141414" stroke-width="1.25" stroke-linecap="butt"/>
<rect x="133.60" y="542.58" width="17.40" height="31.32" fill="#6a3d1b" stroke="#4a2a10" stroke-width="0.8"/>
<line x1="47.60" y1="499.50" x2="47.60" y2="574.70" stroke="#141414" stroke-width="1.5" stroke-linecap="butt"/>
<line x1="46.90" y1="573.90" x2="155.50" y2="573.90" stroke="#141414" stroke-width="1.6" stroke-linecap="butt"/>
<line x1="44.50" y1="573.90" x2="47.60" y2="573.90" stroke="#141414" stroke-width="1.2" stroke-linecap="butt"/>
<text transform="translate(41.40,576.60) scale(0.92,1)" font-size="8.6" text-anchor="end" font-weight="normal" fill="#242424" stroke="#242424" stroke-width="0.28">0</text>
<line x1="44.50" y1="559.48" x2="47.60" y2="559.48" stroke="#141414" stroke-width="1.2" stroke-linecap="butt"/>
<text transform="translate(41.40,562.18) scale(0.92,1)" font-size="8.6" text-anchor="end" font-weight="normal" fill="#242424" stroke="#242424" stroke-width="0.28">10</text>
<line x1="44.50" y1="545.06" x2="47.60" y2="545.06" stroke="#141414" stroke-width="1.2" stroke-linecap="butt"/>
<text transform="translate(41.40,547.76) scale(0.92,1)" font-size="8.6" text-anchor="end" font-weight="normal" fill="#242424" stroke="#242424" stroke-width="0.28">20</text>
<line x1="44.50" y1="530.64" x2="47.60" y2="530.64" stroke="#141414" stroke-width="1.2" stroke-linecap="butt"/>
<text transform="translate(41.40,533.34) scale(0.92,1)" font-size="8.6" text-anchor="end" font-weight="normal" fill="#242424" stroke="#242424" stroke-width="0.28">30</text>
<line x1="44.50" y1="516.22" x2="47.60" y2="516.22" stroke="#141414" stroke-width="1.2" stroke-linecap="butt"/>
<text transform="translate(41.40,518.92) scale(0.92,1)" font-size="8.6" text-anchor="end" font-weight="normal" fill="#242424" stroke="#242424" stroke-width="0.28">40</text>
<line x1="44.50" y1="501.80" x2="47.60" y2="501.80" stroke="#141414" stroke-width="1.2" stroke-linecap="butt"/>
<text transform="translate(41.40,504.50) scale(0.92,1)" font-size="8.6" text-anchor="end" font-weight="normal" fill="#242424" stroke="#242424" stroke-width="0.28">50</text>
<line x1="61.00" y1="573.90" x2="61.00" y2="577.30" stroke="#141414" stroke-width="1.2" stroke-linecap="butt"/>
<text transform="translate(64.30,584.00) rotate(-45) scale(0.97,1)" font-size="8.2" text-anchor="end" font-weight="normal" fill="#242424" stroke="#242424" stroke-width="0.3">Wt+PBS</text>
<line x1="88.10" y1="573.90" x2="88.10" y2="577.30" stroke="#141414" stroke-width="1.2" stroke-linecap="butt"/>
<text transform="translate(91.40,584.00) rotate(-45) scale(0.97,1)" font-size="8.2" text-anchor="end" font-weight="normal" fill="#242424" stroke="#242424" stroke-width="0.3">Wt+SnPP</text>
<line x1="115.20" y1="573.90" x2="115.20" y2="577.30" stroke="#141414" stroke-width="1.2" stroke-linecap="butt"/>
<text transform="translate(118.50,584.00) rotate(-45) scale(0.97,1)" font-size="8.2" text-anchor="end" font-weight="normal" fill="#242424" stroke="#242424" stroke-width="0.3">Th3/<tspan dy="-2.6" font-size="5.5">+</tspan><tspan dy="2.6" dx="1.2">+PBS</tspan></text>
<line x1="142.30" y1="573.90" x2="142.30" y2="577.30" stroke="#141414" stroke-width="1.2" stroke-linecap="butt"/>
<text transform="translate(145.60,584.00) rotate(-45) scale(0.97,1)" font-size="8.2" text-anchor="end" font-weight="normal" fill="#242424" stroke="#242424" stroke-width="0.3">Th3/<tspan dy="-2.6" font-size="5.5">+</tspan><tspan dy="2.6" dx="1.2">+SnPP</tspan></text>
<text transform="translate(27.00,535.50) rotate(-90) scale(0.9262499999999999,1)" font-size="8.4" text-anchor="middle" font-weight="normal" fill="#262626" stroke="#262626" stroke-width="0.28">Transferrin saturation (%)</text>
<line x1="115.40" y1="502.10" x2="141.50" y2="502.10" stroke="#141414" stroke-width="1.25" stroke-linecap="butt"/>
<text transform="translate(128.95,501.10)" font-size="7.2" text-anchor="middle" font-weight="bold" fill="#1c1c1c" stroke="#1c1c1c" stroke-width="0.25" letter-spacing="1.3">*</text>
<text transform="translate(8.50,494.80)" font-size="10.8" text-anchor="start" font-weight="bold" fill="#000" stroke="#000" stroke-width="0.2">J</text>
<line x1="237.40" y1="569.53" x2="237.40" y2="568.58" stroke="#141414" stroke-width="1.25" stroke-linecap="butt"/>
<line x1="232.65" y1="568.58" x2="242.15" y2="568.58" stroke="#141414" stroke-width="1.25" stroke-linecap="butt"/>
<rect x="228.90" y="569.93" width="17.00" height="3.87" fill="#2c4a84" stroke="#1c2f5a" stroke-width="0.8"/>
<line x1="264.20" y1="567.87" x2="264.20" y2="566.44" stroke="#141414" stroke-width="1.25" stroke-linecap="butt"/>
<line x1="259.45" y1="566.44" x2="268.95" y2="566.44" stroke="#141414" stroke-width="1.25" stroke-linecap="butt"/>
<rect x="255.70" y="568.27" width="17.00" height="5.53" fill="#6aa840" stroke="#5a9a34" stroke-width="0.8"/>
<line x1="291.00" y1="526.33" x2="291.00" y2="512.56" stroke="#141414" stroke-width="1.25" stroke-linecap="butt"/>
<line x1="286.25" y1="512.56" x2="295.75" y2="512.56" stroke="#141414" stroke-width="1.25" stroke-linecap="butt"/>
<rect x="282.50" y="526.73" width="17.00" height="47.07" fill="#ad0429" stroke="#8e0020" stroke-width="0.8"/>
<line x1="317.80" y1="552.20" x2="317.80" y2="549.35" stroke="#141414" stroke-width="1.25" stroke-linecap="butt"/>
<line x1="313.05" y1="549.35" x2="322.55" y2="549.35" stroke="#141414" stroke-width="1.25" stroke-linecap="butt"/>
<rect x="309.30" y="552.60" width="17.00" height="21.20" fill="#6a3d1b" stroke="#4a2a10" stroke-width="0.8"/>
<line x1="223.90" y1="499.40" x2="223.90" y2="574.60" stroke="#141414" stroke-width="1.5" stroke-linecap="butt"/>
<line x1="223.20" y1="573.80" x2="331.80" y2="573.80" stroke="#141414" stroke-width="1.6" stroke-linecap="butt"/>
<line x1="220.80" y1="573.80" x2="223.90" y2="573.80" stroke="#141414" stroke-width="1.2" stroke-linecap="butt"/>
<text transform="translate(217.70,576.50) scale(0.92,1)" font-size="8.6" text-anchor="end" font-weight="normal" fill="#242424" stroke="#242424" stroke-width="0.28">0</text>
<line x1="220.80" y1="550.06" x2="223.90" y2="550.06" stroke="#141414" stroke-width="1.2" stroke-linecap="butt"/>
<text transform="translate(217.70,552.76) scale(0.92,1)" font-size="8.6" text-anchor="end" font-weight="normal" fill="#242424" stroke="#242424" stroke-width="0.28">500</text>
<line x1="220.80" y1="526.33" x2="223.90" y2="526.33" stroke="#141414" stroke-width="1.2" stroke-linecap="butt"/>
<text transform="translate(217.70,529.03) scale(0.92,1)" font-size="8.6" text-anchor="end" font-weight="normal" fill="#242424" stroke="#242424" stroke-width="0.28">1000</text>
<line x1="220.80" y1="502.59" x2="223.90" y2="502.59" stroke="#141414" stroke-width="1.2" stroke-linecap="butt"/>
<text transform="translate(217.70,505.29) scale(0.92,1)" font-size="8.6" text-anchor="end" font-weight="normal" fill="#242424" stroke="#242424" stroke-width="0.28">1500</text>
<line x1="237.40" y1="573.80" x2="237.40" y2="577.20" stroke="#141414" stroke-width="1.2" stroke-linecap="butt"/>
<text transform="translate(240.70,583.90) rotate(-45) scale(0.97,1)" font-size="8.2" text-anchor="end" font-weight="normal" fill="#242424" stroke="#242424" stroke-width="0.3">Wt+PBS</text>
<line x1="264.20" y1="573.80" x2="264.20" y2="577.20" stroke="#141414" stroke-width="1.2" stroke-linecap="butt"/>
<text transform="translate(267.50,583.90) rotate(-45) scale(0.97,1)" font-size="8.2" text-anchor="end" font-weight="normal" fill="#242424" stroke="#242424" stroke-width="0.3">Wt+SnPP</text>
<line x1="291.00" y1="573.80" x2="291.00" y2="577.20" stroke="#141414" stroke-width="1.2" stroke-linecap="butt"/>
<text transform="translate(294.30,583.90) rotate(-45) scale(0.97,1)" font-size="8.2" text-anchor="end" font-weight="normal" fill="#242424" stroke="#242424" stroke-width="0.3">Th3/<tspan dy="-2.6" font-size="5.5">+</tspan><tspan dy="2.6" dx="1.2">+PBS</tspan></text>
<line x1="317.80" y1="573.80" x2="317.80" y2="577.20" stroke="#141414" stroke-width="1.2" stroke-linecap="butt"/>
<text transform="translate(321.10,583.90) rotate(-45) scale(0.97,1)" font-size="8.2" text-anchor="end" font-weight="normal" fill="#242424" stroke="#242424" stroke-width="0.3">Th3/<tspan dy="-2.6" font-size="5.5">+</tspan><tspan dy="2.6" dx="1.2">+SnPP</tspan></text>
<text transform="translate(194.40,537.00) rotate(-90) scale(0.88725,1)" font-size="8.4" text-anchor="middle" font-weight="normal" fill="#262626" stroke="#262626" stroke-width="0.28">Serum EPO (pg/ml)</text>
<line x1="239.10" y1="502.50" x2="290.50" y2="502.50" stroke="#141414" stroke-width="1.25" stroke-linecap="butt"/>
<text transform="translate(265.30,501.50)" font-size="7.2" text-anchor="middle" font-weight="bold" fill="#1c1c1c" stroke="#1c1c1c" stroke-width="0.25" letter-spacing="1.3">***</text>
<line x1="291.20" y1="509.10" x2="317.00" y2="509.10" stroke="#141414" stroke-width="1.25" stroke-linecap="butt"/>
<text transform="translate(304.60,508.10)" font-size="7.2" text-anchor="middle" font-weight="bold" fill="#1c1c1c" stroke="#1c1c1c" stroke-width="0.25" letter-spacing="1.3">*</text>
<text transform="translate(188.80,494.50)" font-size="10.8" text-anchor="start" font-weight="bold" fill="#000" stroke="#000" stroke-width="0.2">L</text>
<defs>
<clipPath id="pc"><rect x="358.8" y="206.3" width="143.0" height="94.6"/></clipPath>
<filter id="b1" x="-20%" y="-20%" width="140%" height="140%"><feGaussianBlur stdDeviation="0.5"/></filter>
<filter id="b2" x="-20%" y="-20%" width="140%" height="140%"><feGaussianBlur stdDeviation="1.2"/></filter>
<filter id="b0" x="-5%" y="-5%" width="110%" height="110%"><feGaussianBlur stdDeviation="0.3"/></filter>
<linearGradient id="bg" x1="0" y1="0" x2="1" y2="0"><stop offset="0" stop-color="#d6ccc0"/><stop offset="0.2" stop-color="#d9cfc4"/><stop offset="1" stop-color="#dacfc5"/></linearGradient>
<linearGradient id="rl" x1="0" y1="0" x2="0" y2="1"><stop offset="0" stop-color="#d6d3ce"/><stop offset="0.25" stop-color="#d9d6d0"/><stop offset="0.48" stop-color="#d5d2ca"/><stop offset="0.56" stop-color="#cac6bb"/><stop offset="0.64" stop-color="#e2dfd3"/><stop offset="0.74" stop-color="#ece9dd"/><stop offset="0.82" stop-color="#d8d4c8"/><stop offset="0.94" stop-color="#cbc7bb"/><stop offset="1" stop-color="#c6c2b6"/></linearGradient>
</defs>
<g id="photo" clip-path="url(#pc)">
<rect x="358.8" y="206.3" width="143.0" height="94.6" fill="url(#bg)"/>
<rect x="358.8" y="206.3" width="1.6" height="95" fill="#cdc2b5" filter="url(#b1)"/>
<g filter="url(#b0)">
<rect x="371" y="206.3" width="10" height="66" fill="#e4dbd0" opacity="0.55"/>
<line x1="371.2" y1="207" x2="371.2" y2="272" stroke="#7d766e" stroke-width="1.0" opacity="0.9"/>
<line x1="371.3" y1="208.00" x2="381.6" y2="208.00" stroke="#a0978d" stroke-width="0.8"/>
<line x1="371.3" y1="210.72" x2="380.3" y2="210.72" stroke="#b4aba0" stroke-width="0.8"/>
<line x1="371.3" y1="213.44" x2="380.3" y2="213.44" stroke="#b4aba0" stroke-width="0.8"/>
<line x1="371.3" y1="216.16" x2="380.3" y2="216.16" stroke="#b4aba0" stroke-width="0.8"/>
<line x1="371.3" y1="218.88" x2="380.3" y2="218.88" stroke="#b4aba0" stroke-width="0.8"/>
<line x1="371.3" y1="221.60" x2="381.6" y2="221.60" stroke="#a0978d" stroke-width="0.8"/>
<line x1="371.3" y1="224.32" x2="380.3" y2="224.32" stroke="#b4aba0" stroke-width="0.8"/>
<line x1="371.3" y1="227.04" x2="380.3" y2="227.04" stroke="#b4aba0" stroke-width="0.8"/>
<line x1="371.3" y1="229.76" x2="380.3" y2="229.76" stroke="#b4aba0" stroke-width="0.8"/>
<line x1="371.3" y1="232.48" x2="380.3" y2="232.48" stroke="#b4aba0" stroke-width="0.8"/>
<line x1="371.3" y1="235.20" x2="381.6" y2="235.20" stroke="#a0978d" stroke-width="0.8"/>
<line x1="371.3" y1="237.92" x2="380.3" y2="237.92" stroke="#b4aba0" stroke-width="0.8"/>
<line x1="371.3" y1="240.64" x2="380.3" y2="240.64" stroke="#b4aba0" stroke-width="0.8"/>
<line x1="371.3" y1="243.36" x2="380.3" y2="243.36" stroke="#b4aba0" stroke-width="0.8"/>
<line x1="371.3" y1="246.08" x2="380.3" y2="246.08" stroke="#b4aba0" stroke-width="0.8"/>
<line x1="371.3" y1="248.80" x2="381.6" y2="248.80" stroke="#a0978d" stroke-width="0.8"/>
<line x1="371.3" y1="251.52" x2="380.3" y2="251.52" stroke="#b4aba0" stroke-width="0.8"/>
<line x1="371.3" y1="254.24" x2="380.3" y2="254.24" stroke="#b4aba0" stroke-width="0.8"/>
<line x1="371.3" y1="256.96" x2="380.3" y2="256.96" stroke="#b4aba0" stroke-width="0.8"/>
<line x1="371.3" y1="259.68" x2="380.3" y2="259.68" stroke="#b4aba0" stroke-width="0.8"/>
<line x1="371.3" y1="262.40" x2="381.6" y2="262.40" stroke="#a0978d" stroke-width="0.8"/>
<line x1="371.3" y1="265.12" x2="380.3" y2="265.12" stroke="#b4aba0" stroke-width="0.8"/>
<line x1="371.3" y1="267.84" x2="380.3" y2="267.84" stroke="#b4aba0" stroke-width="0.8"/>
<line x1="371.3" y1="270.56" x2="380.3" y2="270.56" stroke="#b4aba0" stroke-width="0.8"/>
<rect x="368.2" y="225.6" width="3.0" height="2.2" fill="#8a8279" opacity="0.8"/>
<rect x="368.6" y="248.6" width="2.6" height="2.0" fill="#8a8279" opacity="0.7"/>
<rect x="368.4" y="262.5" width="3.0" height="2.6" fill="#7a726a" opacity="0.85"/>
<rect x="368.2" y="267.6" width="3.2" height="3.6" fill="#6e665e" opacity="0.9"/>
</g>
<rect x="358.8" y="272.6" width="23.5" height="29" fill="#e4ddd3"/>
<rect x="358.8" y="272.4" width="23.5" height="1.0" fill="#d3c9bc" opacity="0.7" filter="url(#b0)"/>
<rect x="381.8" y="272.8" width="121" height="29" fill="url(#rl)"/>
<rect x="381.4" y="272.8" width="2.0" height="29" fill="#c6c0b2" opacity="0.8" filter="url(#b1)"/>
<rect x="383.8" y="272.8" width="6" height="29" fill="#e4e1d8" opacity="0.85" filter="url(#b1)"/>
<g filter="url(#b0)">
<line x1="391.30" y1="273.6" x2="391.30" y2="283.20" stroke="#666c8c" stroke-width="1.2"/>
<line x1="394.08" y1="273.6" x2="394.08" y2="278.40" stroke="#84879a" stroke-width="1.0"/>
<line x1="396.85" y1="273.6" x2="396.85" y2="278.40" stroke="#84879a" stroke-width="1.0"/>
<line x1="399.63" y1="273.6" x2="399.63" y2="278.40" stroke="#84879a" stroke-width="1.0"/>
<line x1="402.40" y1="273.6" x2="402.40" y2="278.40" stroke="#84879a" stroke-width="1.0"/>
<line x1="405.18" y1="273.6" x2="405.18" y2="280.40" stroke="#74788f" stroke-width="1.0"/>
<line x1="407.96" y1="273.6" x2="407.96" y2="278.40" stroke="#84879a" stroke-width="1.0"/>
<line x1="410.73" y1="273.6" x2="410.73" y2="278.40" stroke="#84879a" stroke-width="1.0"/>
<line x1="413.51" y1="273.6" x2="413.51" y2="278.40" stroke="#84879a" stroke-width="1.0"/>
<line x1="416.28" y1="273.6" x2="416.28" y2="278.40" stroke="#84879a" stroke-width="1.0"/>
<line x1="419.06" y1="273.6" x2="419.06" y2="283.20" stroke="#666c8c" stroke-width="1.2"/>
<line x1="421.84" y1="273.6" x2="421.84" y2="278.40" stroke="#84879a" stroke-width="1.0"/>
<line x1="424.61" y1="273.6" x2="424.61" y2="278.40" stroke="#84879a" stroke-width="1.0"/>
<line x1="427.39" y1="273.6" x2="427.39" y2="278.40" stroke="#84879a" stroke-width="1.0"/>
<line x1="430.16" y1="273.6" x2="430.16" y2="278.40" stroke="#84879a" stroke-width="1.0"/>
<line x1="432.94" y1="273.6" x2="432.94" y2="280.40" stroke="#74788f" stroke-width="1.0"/>
<line x1="435.72" y1="273.6" x2="435.72" y2="278.40" stroke="#84879a" stroke-width="1.0"/>
<line x1="438.49" y1="273.6" x2="438.49" y2="278.40" stroke="#84879a" stroke-width="1.0"/>
<line x1="441.27" y1="273.6" x2="441.27" y2="278.40" stroke="#84879a" stroke-width="1.0"/>
<line x1="444.04" y1="273.6" x2="444.04" y2="278.40" stroke="#84879a" stroke-width="1.0"/>
<line x1="446.82" y1="273.6" x2="446.82" y2="283.20" stroke="#666c8c" stroke-width="1.2"/>
<line x1="449.60" y1="273.6" x2="449.60" y2="278.40" stroke="#84879a" stroke-width="1.0"/>
<line x1="452.37" y1="273.6" x2="452.37" y2="278.40" stroke="#84879a" stroke-width="1.0"/>
<line x1="455.15" y1="273.6" x2="455.15" y2="278.40" stroke="#84879a" stroke-width="1.0"/>
<line x1="457.92" y1="273.6" x2="457.92" y2="278.40" stroke="#84879a" stroke-width="1.0"/>
<line x1="460.70" y1="273.6" x2="460.70" y2="280.40" stroke="#74788f" stroke-width="1.0"/>
<line x1="463.48" y1="273.6" x2="463.48" y2="278.40" stroke="#84879a" stroke-width="1.0"/>
<line x1="466.25" y1="273.6" x2="466.25" y2="278.40" stroke="#84879a" stroke-width="1.0"/>
<line x1="469.03" y1="273.6" x2="469.03" y2="278.40" stroke="#84879a" stroke-width="1.0"/>
<line x1="471.80" y1="273.6" x2="471.80" y2="278.40" stroke="#84879a" stroke-width="1.0"/>
<line x1="474.58" y1="273.6" x2="474.58" y2="283.20" stroke="#666c8c" stroke-width="1.2"/>
<line x1="477.36" y1="273.6" x2="477.36" y2="278.40" stroke="#84879a" stroke-width="1.0"/>
<line x1="480.13" y1="273.6" x2="480.13" y2="278.40" stroke="#84879a" stroke-width="1.0"/>
<line x1="482.91" y1="273.6" x2="482.91" y2="278.40" stroke="#84879a" stroke-width="1.0"/>
<line x1="485.68" y1="273.6" x2="485.68" y2="278.40" stroke="#84879a" stroke-width="1.0"/>
<line x1="488.46" y1="273.6" x2="488.46" y2="280.40" stroke="#74788f" stroke-width="1.0"/>
<line x1="491.24" y1="273.6" x2="491.24" y2="278.40" stroke="#84879a" stroke-width="1.0"/>
<line x1="494.01" y1="273.6" x2="494.01" y2="278.40" stroke="#84879a" stroke-width="1.0"/>
<line x1="496.79" y1="273.6" x2="496.79" y2="278.40" stroke="#84879a" stroke-width="1.0"/>
<line x1="499.56" y1="273.6" x2="499.56" y2="278.40" stroke="#84879a" stroke-width="1.0"/>
<line x1="502.34" y1="273.6" x2="502.34" y2="283.20" stroke="#666c8c" stroke-width="1.2"/>
</g>
<g font-size="6.4" fill="#6470a4" stroke="#6470a4" stroke-width="0.2" filter="url(#b0)">
<text x="392.6" y="287.2" textLength="11" lengthAdjust="spacingAndGlyphs">CM</text>
<text x="419.6" y="287.2">1</text>
<text x="447.2" y="287.2">2</text>
<text x="475.2" y="287.2">3</text>
</g>
<g filter="url(#b1)">
<path d="M395.9,241.4 C398.2,241.5 399.3,240.4 399.5,243.4 C399.7,246.4 398.0,247.1 396.6,251.4 C395.2,255.7 395.2,253.9 394.8,257.8 C394.4,261.7 394.8,260.6 395.3,264.3 C395.8,268.0 397.1,267.5 396.6,270.0 C396.2,272.5 396.1,272.7 393.8,272.6 C391.5,272.5 391.0,273.1 388.8,269.8 C386.6,266.5 387.0,266.4 386.4,261.7 C385.8,257.0 386.0,258.2 386.7,254.0 C387.4,249.8 387.1,250.8 388.6,247.6 C390.1,244.4 389.6,245.1 391.8,243.2 C394.0,241.3 393.6,241.3 395.9,241.4 Z" fill="#5c1317"/>
<path d="M420.8,236.5 C423.5,236.9 424.8,237.0 426.0,240.2 C427.2,243.4 425.8,242.4 424.8,247.3 C423.8,252.2 423.4,251.4 422.6,256.5 C421.8,261.6 422.5,260.1 422.2,264.2 C421.9,268.3 423.0,267.7 421.6,270.2 C420.2,272.7 420.4,272.9 417.7,272.6 C415.0,272.3 414.9,272.6 412.5,269.2 C410.1,265.8 410.4,265.9 409.7,261.2 C408.9,256.5 409.0,258.6 410.0,253.5 C411.0,248.4 411.0,248.6 413.1,244.2 C415.2,239.8 414.6,241.1 416.9,238.8 C419.2,236.5 418.1,236.1 420.8,236.5 Z" fill="#5a1115"/>
<path d="M453.1,220.2 C456.3,220.4 456.7,220.9 458.5,223.3 C460.3,225.7 459.9,225.0 459.0,228.1 C458.1,231.2 457.6,229.1 455.4,233.5 C453.1,237.9 453.2,237.2 451.5,242.7 C449.8,248.2 450.1,246.3 449.7,251.9 C449.2,257.4 449.0,256.2 450.0,261.2 C451.0,266.2 451.6,265.5 453.1,268.6 C454.6,271.7 455.4,270.4 454.9,271.6 C454.4,272.8 454.8,273.8 451.5,272.6 C448.2,271.4 447.7,271.9 443.8,267.5 C439.9,263.1 440.8,264.2 438.5,258.1 C436.2,252.0 436.4,253.3 436.2,247.3 C436.0,241.3 435.9,243.7 437.7,238.1 C439.5,232.5 439.3,233.4 442.3,228.8 C445.3,224.2 444.5,225.3 447.7,222.7 C450.9,220.1 449.9,220.0 453.1,220.2 Z" fill="#4d0c11"/>
<path d="M474.6,229.9 C477.4,229.7 477.7,228.8 480.0,231.7 C482.3,234.6 481.4,234.5 482.3,239.6 C483.2,244.7 482.2,243.2 483.1,248.8 C484.0,254.4 484.5,253.0 485.4,258.1 C486.3,263.2 486.4,261.9 486.2,265.8 C486.0,269.7 486.7,269.1 484.6,271.0 C482.5,272.9 482.4,272.6 479.2,272.0 C476.0,271.4 476.3,272.2 473.8,269.0 C471.3,265.8 471.9,267.3 470.8,261.2 C469.8,255.1 470.6,255.7 470.3,248.8 C470.0,241.9 469.6,243.0 469.7,238.1 C469.8,233.2 469.3,235.0 470.8,232.5 C472.3,230.0 471.8,230.1 474.6,229.9 Z" fill="#2e0d11"/>
</g>
<g filter="url(#b2)" opacity="0.55">
<ellipse cx="393.3" cy="264.5" rx="1.2" ry="3.5" fill="#a86a6a" transform="rotate(-12 393.3 264.5)"/>
<ellipse cx="414.6" cy="262" rx="1.6" ry="4.5" fill="#a86a6a" transform="rotate(-18 414.6 262)"/>
<ellipse cx="419" cy="243.5" rx="1.4" ry="3" fill="#a06060" transform="rotate(25 419 243.5)"/>
<ellipse cx="445" cy="240" rx="2" ry="8" fill="#7a2a2e" transform="rotate(22 445 240)"/>
</g>
</g>
<text transform="translate(349.00,178.40) scale(1.12,1)" font-size="10.8" text-anchor="start" font-weight="bold" fill="#000" stroke="#000" stroke-width="0.2">F</text>
<text transform="translate(398.60,202.60) rotate(-45) scale(0.92,1)" font-size="8.2" text-anchor="start" font-weight="normal" fill="#242424" stroke="#242424" stroke-width="0.3">Wt + PBS</text>
<text transform="translate(426.00,202.60) rotate(-45) scale(0.92,1)" font-size="8.2" text-anchor="start" font-weight="normal" fill="#242424" stroke="#242424" stroke-width="0.3">Wt + SnPP</text>
<text transform="translate(451.80,202.60) rotate(-45) scale(0.92,1)" font-size="8.2" text-anchor="start" font-weight="normal" fill="#242424" stroke="#242424" stroke-width="0.3">Th3/<tspan dy="-2.6" font-size="5.5">+</tspan><tspan dy="2.6" dx="0.6"> + PBS</tspan></text>
<text transform="translate(477.60,202.60) rotate(-45) scale(0.92,1)" font-size="8.2" text-anchor="start" font-weight="normal" fill="#242424" stroke="#242424" stroke-width="0.3">Th3/<tspan dy="-2.6" font-size="5.5">+</tspan><tspan dy="2.6" dx="0.6"> + SnPP</tspan></text>
<rect x="0" y="0" width="1.6" height="623" fill="#000"/>
<rect x="0" y="0" width="520" height="1.1" fill="#000"/>
<rect x="518.8" y="0" width="1.2" height="623" fill="#000"/>
<rect x="0" y="621.3" width="520" height="1.7" fill="#000"/>
</svg></body></html>
